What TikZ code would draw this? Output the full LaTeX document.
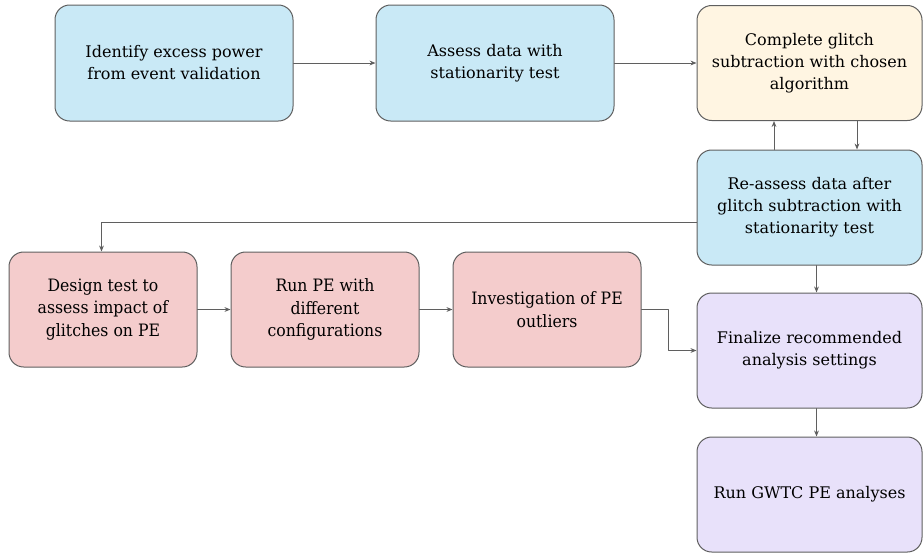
\documentclass[tikz,border=0pt]{standalone}
\usepackage{fontspec}
\setmainfont{DejaVu Serif}
\newfontfamily\pinkfont[FakeStretch=0.92]{DejaVu Serif}
\usetikzlibrary{arrows.meta,calc}
\definecolor{stepBlue}{RGB}{201,233,246}
\definecolor{stepYellow}{RGB}{255,245,226}
\definecolor{stepPink}{RGB}{244,204,204}
\definecolor{stepPurple}{RGB}{232,225,250}
\definecolor{edgeGray}{RGB}{95,95,95}

\begin{document}
\begin{tikzpicture}[
    x=0.75pt,y=-0.75pt,
    line cap=round,
    line join=round,
    every node/.style={font=\fontsize{12}{16.5}\selectfont},
    stepbox/.style={
        draw=edgeGray,
        line width=0.75pt,
        rounded corners=11pt,
        align=center,
        inner sep=0pt
    },
    wide/.style={stepbox,minimum width=178.5pt,minimum height=87pt},
    side/.style={stepbox,minimum width=168.75pt,minimum height=86.25pt},
    pinkbox/.style={stepbox,fill=stepPink,minimum width=141pt,minimum height=86.25pt,
        font=\pinkfont\fontsize{12.8}{16.9}\selectfont},
    arr/.style={
        draw=edgeGray,
        line width=0.75pt,
        -{Stealth[length=4.5pt,width=3.6pt]}
    }
]
\useasboundingbox (0,0) rectangle (923,554);

% ============================================================
% top row
% ============================================================

\node[wide,fill=stepBlue] (idp) at (174,63)
    {Identify excess power\\from event validation};
\node[wide,fill=stepBlue] (asd) at (495,63)
    {Assess data with\\stationarity test};
\node[side,fill=stepYellow] (cgs) at (809.5,63)
    {Complete glitch\\subtraction with chosen\\algorithm};

% ============================================================
% right column
% ============================================================

\node[side,fill=stepBlue] (rad) at (809.5,207.5)
    {Re-assess data after\\glitch subtraction with\\stationarity test};
\node[side,fill=stepPurple] (frs) at (809.5,350.5)
    {Finalize recommended\\analysis settings};
\node[side,fill=stepPurple] (rgp) at (809.5,494.5)
    {Run GWTC PE analyses};

% ============================================================
% PE test row
% ============================================================

\node[pinkbox] (dtp) at (103,309.5)
    {Design test to\\assess impact of\\glitches on PE};
\node[pinkbox] (rpe) at (325,309.5)
    {Run PE with\\different\\configurations};
\node[pinkbox] (ipo) at (547,309.5)
    {Investigation of PE\\outliers};

% ============================================================
% connectors
% ============================================================

\draw[arr] (idp) -- (asd);
\draw[arr] (asd) -- (cgs);
\draw[arr] ($(rad.north)+(-35.5,0)$) -- ($(cgs.south)+(-35.5,0)$);
\draw[arr] ($(cgs.south)+(47.5,0)$) -- ($(rad.north)+(47.5,0)$);
\draw[arr] ($(rad.west)+(0,14.5)$) -| ($(dtp.north)+(-1.5,0)$);
\draw[arr] (dtp) -- (rpe);
\draw[arr] (rpe) -- (ipo);
\draw[arr] (ipo.east) -- ++(27,0) |- (frs.west);
\draw[arr] ($(rad.south)+(7,0)$) -- ($(frs.north)+(7,0)$);
\draw[arr] ($(frs.south)+(7,0)$) -- ($(rgp.north)+(7,0)$);

\end{tikzpicture}
\end{document}
